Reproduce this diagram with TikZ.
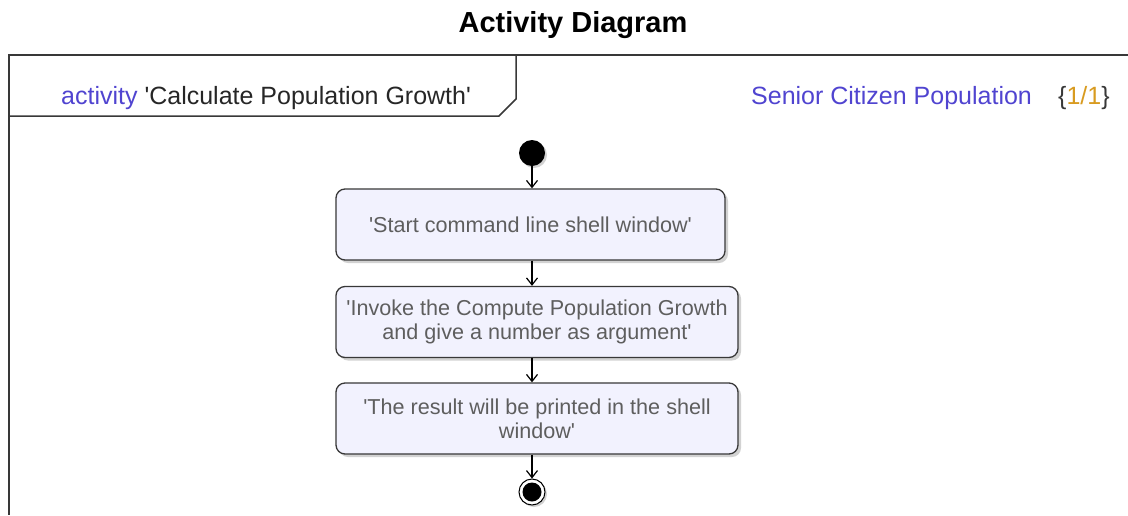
\documentclass[tikz,border=0pt]{standalone}
\usepackage{fontspec}
\setmainfont{Liberation Sans}[Ligatures=TeXOff]
\usetikzlibrary{arrows.meta, shadows}
\definecolor{actblue}{HTML}{5044D0}
\definecolor{actorange}{HTML}{D89B20}
\definecolor{actfill}{HTML}{F2F2FE}
\definecolor{acttext}{HTML}{5E5E5E}
\definecolor{actline}{HTML}{383838}

\begin{document}
\begin{tikzpicture}[x=1pt, y=-1pt,
  action/.style={draw=actline, line width=1.3pt, fill=actfill, rounded corners=9pt,
    minimum height=71pt, align=center, text=acttext, font=\fontsize{21.6}{24}\selectfont,
    drop shadow={shadow xshift=3pt, shadow yshift=-3pt, fill=black!35, opacity=0.5}},
  flow/.style={draw=black, line width=1.2pt, -{Straight Barb[length=7pt, width=11pt]}},
  frame/.style={draw=actline, line width=1.5pt},
  label/.style={anchor=base west, inner sep=0pt, font=\fontsize{25}{28}\selectfont}]
\useasboundingbox (0,0) rectangle (1128,515);

\node[font=\bfseries\fontsize{29}{32}\selectfont] (title) at (573,25) {Activity Diagram};

\draw[frame] (1128,55) -- (9,55) -- (9,515);
\draw[frame] (9,116) -- (499,116) -- (516,99) -- (516,55);

\node[label, text=black!85] (actname) at (61,104) {\textcolor{actblue}{activity} 'Calculate Population Growth'};
\node[label, text=actblue] (partition) at (751,104) {Senior Citizen Population};
\node[label, text=actline] (pagenum) at (1058,104) {\{\textcolor{actorange}{1/1}\}};

\node[circle, fill=black, minimum size=26pt, inner sep=0pt,
  drop shadow={shadow xshift=2pt, shadow yshift=-2pt, fill=black!35, opacity=0.5}] (start) at (532,153) {};

\node[action, minimum width=389pt] (shell) at (530.5,224.5) {'Start command line shell window'};
\node[action, minimum width=402pt] (invoke) at (537,322) {'Invoke the Compute Population Growth\\ and give a number as argument'};
\node[action, minimum width=402pt] (result) at (537,418.5) {'The result will be printed in the shell\\ window'};

\node[circle, draw=black, line width=1pt, fill=white, minimum size=26pt, inner sep=0pt,
  drop shadow={shadow xshift=2pt, shadow yshift=-2pt, fill=black!35, opacity=0.5}] (stop) at (532,492) {};
\node[circle, fill=black, minimum size=19pt, inner sep=0pt] (stopdot) at (stop) {};

\draw[flow] (start) -- (start |- shell.north);
\draw[flow] (start |- shell.south) -- (start |- invoke.north);
\draw[flow] (start |- invoke.south) -- (start |- result.north);
\draw[flow] (start |- result.south) -- (stop);

\end{tikzpicture}
\end{document}
